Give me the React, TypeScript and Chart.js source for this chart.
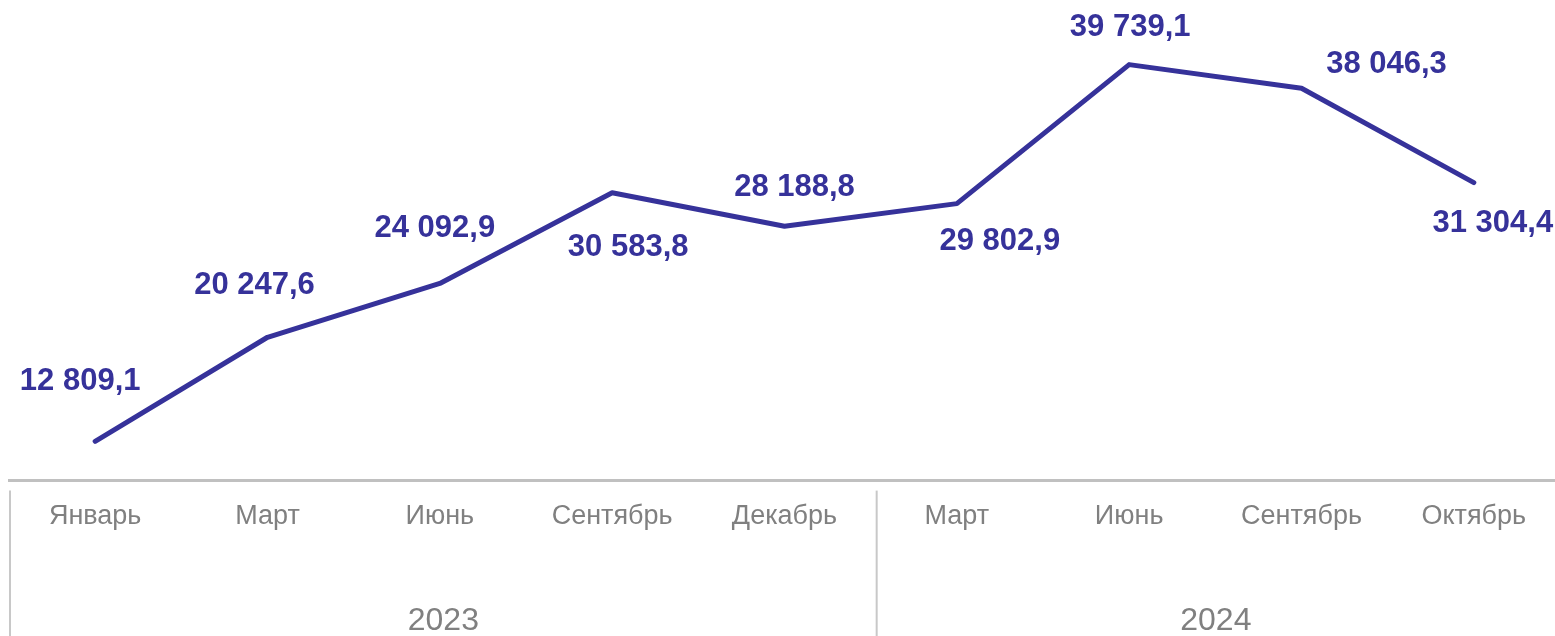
import React, { useEffect, useRef } from "react";
import { Chart, registerables } from "chart.js";

Chart.register(...registerables);

const months = ["Январь", "Март", "Июнь", "Сентябрь", "Декабрь", "Март", "Июнь", "Сентябрь", "Октябрь"];
const years = ["2023", "2024"];
const monthsPerYear = [5, 4];
const values = [12809.1, 20247.6, 24092.9, 30583.8, 28188.8, 29802.9, 39739.1, 38046.3, 31304.4];

// label placement relative to each point (dx, dy in px)
const labelOffsets: [number, number][] = [
  [-15, -60], [-13, -52], [-5, -55], [16, 55], [10, -39],
  [43, 38], [1, -37], [85, -24], [19, 41],
];

const LINE_COLOR = "#36329a";
const AXIS_TEXT = "#808080";
const FONT = "'Liberation Sans', Arial, sans-serif";

function fmt(v: number): string {
  const [intPart, dec] = v.toFixed(1).split(".");
  const withSpaces = intPart.replace(/\B(?=(\d{3})+(?!\d))/g, " ");
  return withSpaces + "," + dec;
}

const labelsPlugin = {
  id: "valueLabels",
  afterDatasetsDraw(chart: any) {
    const ctx = chart.ctx;
    const meta = chart.getDatasetMeta(0);
    ctx.save();
    ctx.font = `bold 31px ${FONT}`;
    ctx.fillStyle = LINE_COLOR;
    ctx.textAlign = "center";
    ctx.textBaseline = "middle";
    meta.data.forEach((pt: any, i: number) => {
      const [dx, dy] = labelOffsets[i];
      ctx.fillText(fmt(values[i]), pt.x + dx, pt.y + dy);
    });
    ctx.restore();
  },
};

const yearsPlugin = {
  id: "yearGroups",
  afterDraw(chart: any) {
    const ctx = chart.ctx;
    const xs = chart.scales.x;
    const area = chart.chartArea;
    const h = chart.height;
    const bounds: number[] = [area.left + 1];
    let idx = 0;
    monthsPerYear.forEach((n, k) => {
      idx += n;
      if (k < monthsPerYear.length - 1) {
        bounds.push((xs.getPixelForValue(idx - 1) + xs.getPixelForValue(idx)) / 2 + 6);
      } else {
        bounds.push(chart.width - 7);
      }
    });
    ctx.save();
    ctx.strokeStyle = "#c8c8c8";
    ctx.lineWidth = 2;
    for (let i = 0; i < bounds.length - 1; i++) {
      ctx.beginPath();
      ctx.moveTo(bounds[i], area.bottom + 10);
      ctx.lineTo(bounds[i], h);
      ctx.stroke();
    }
    ctx.font = `32px ${FONT}`;
    ctx.fillStyle = AXIS_TEXT;
    ctx.textAlign = "center";
    ctx.textBaseline = "middle";
    years.forEach((y, i) => {
      ctx.fillText(y, (bounds[i] + bounds[i + 1]) / 2, h - 15);
    });
    ctx.restore();
  },
};

export default function App() {
  const ref = useRef<HTMLCanvasElement | null>(null);

  useEffect(() => {
    document.body.style.margin = "0";
    document.documentElement.style.overflow = "hidden";
    document.body.style.overflow = "hidden";
    const canvas = ref.current;
    if (!canvas) return;
    const chart = new Chart(canvas, {
      type: "line",
      data: {
        labels: months,
        datasets: [
          {
            data: values,
            borderColor: LINE_COLOR,
            borderWidth: 5,
            pointRadius: 0,
            tension: 0,
            borderCapStyle: "round",
            borderJoinStyle: "round",
          },
        ],
      },
      options: {
        animation: false,
        responsive: false,
        maintainAspectRatio: false,
        layout: { padding: { top: 33, bottom: 83, left: 9, right: 2 } },
        plugins: { legend: { display: false }, tooltip: { enabled: false } },
        scales: {
          x: {
            offset: true,
            grid: { display: false, drawTicks: false },
            border: { display: true, color: "#c0c0c0", width: 3 },
            ticks: {
              color: AXIS_TEXT,
              font: { family: FONT, size: 27 },
              padding: 20,
              maxRotation: 0,
              autoSkip: false,
            },
          },
          y: {
            display: false,
            min: 10000,
            max: 42000,
          },
        },
      },
      plugins: [labelsPlugin, yearsPlugin],
    });
    return () => chart.destroy();
  }, []);

  return (
    <div style={{ width: 1562, height: 636 }}>
      <canvas ref={ref} width={1562} height={636} style={{ display: "block" }} />
    </div>
  );
}
